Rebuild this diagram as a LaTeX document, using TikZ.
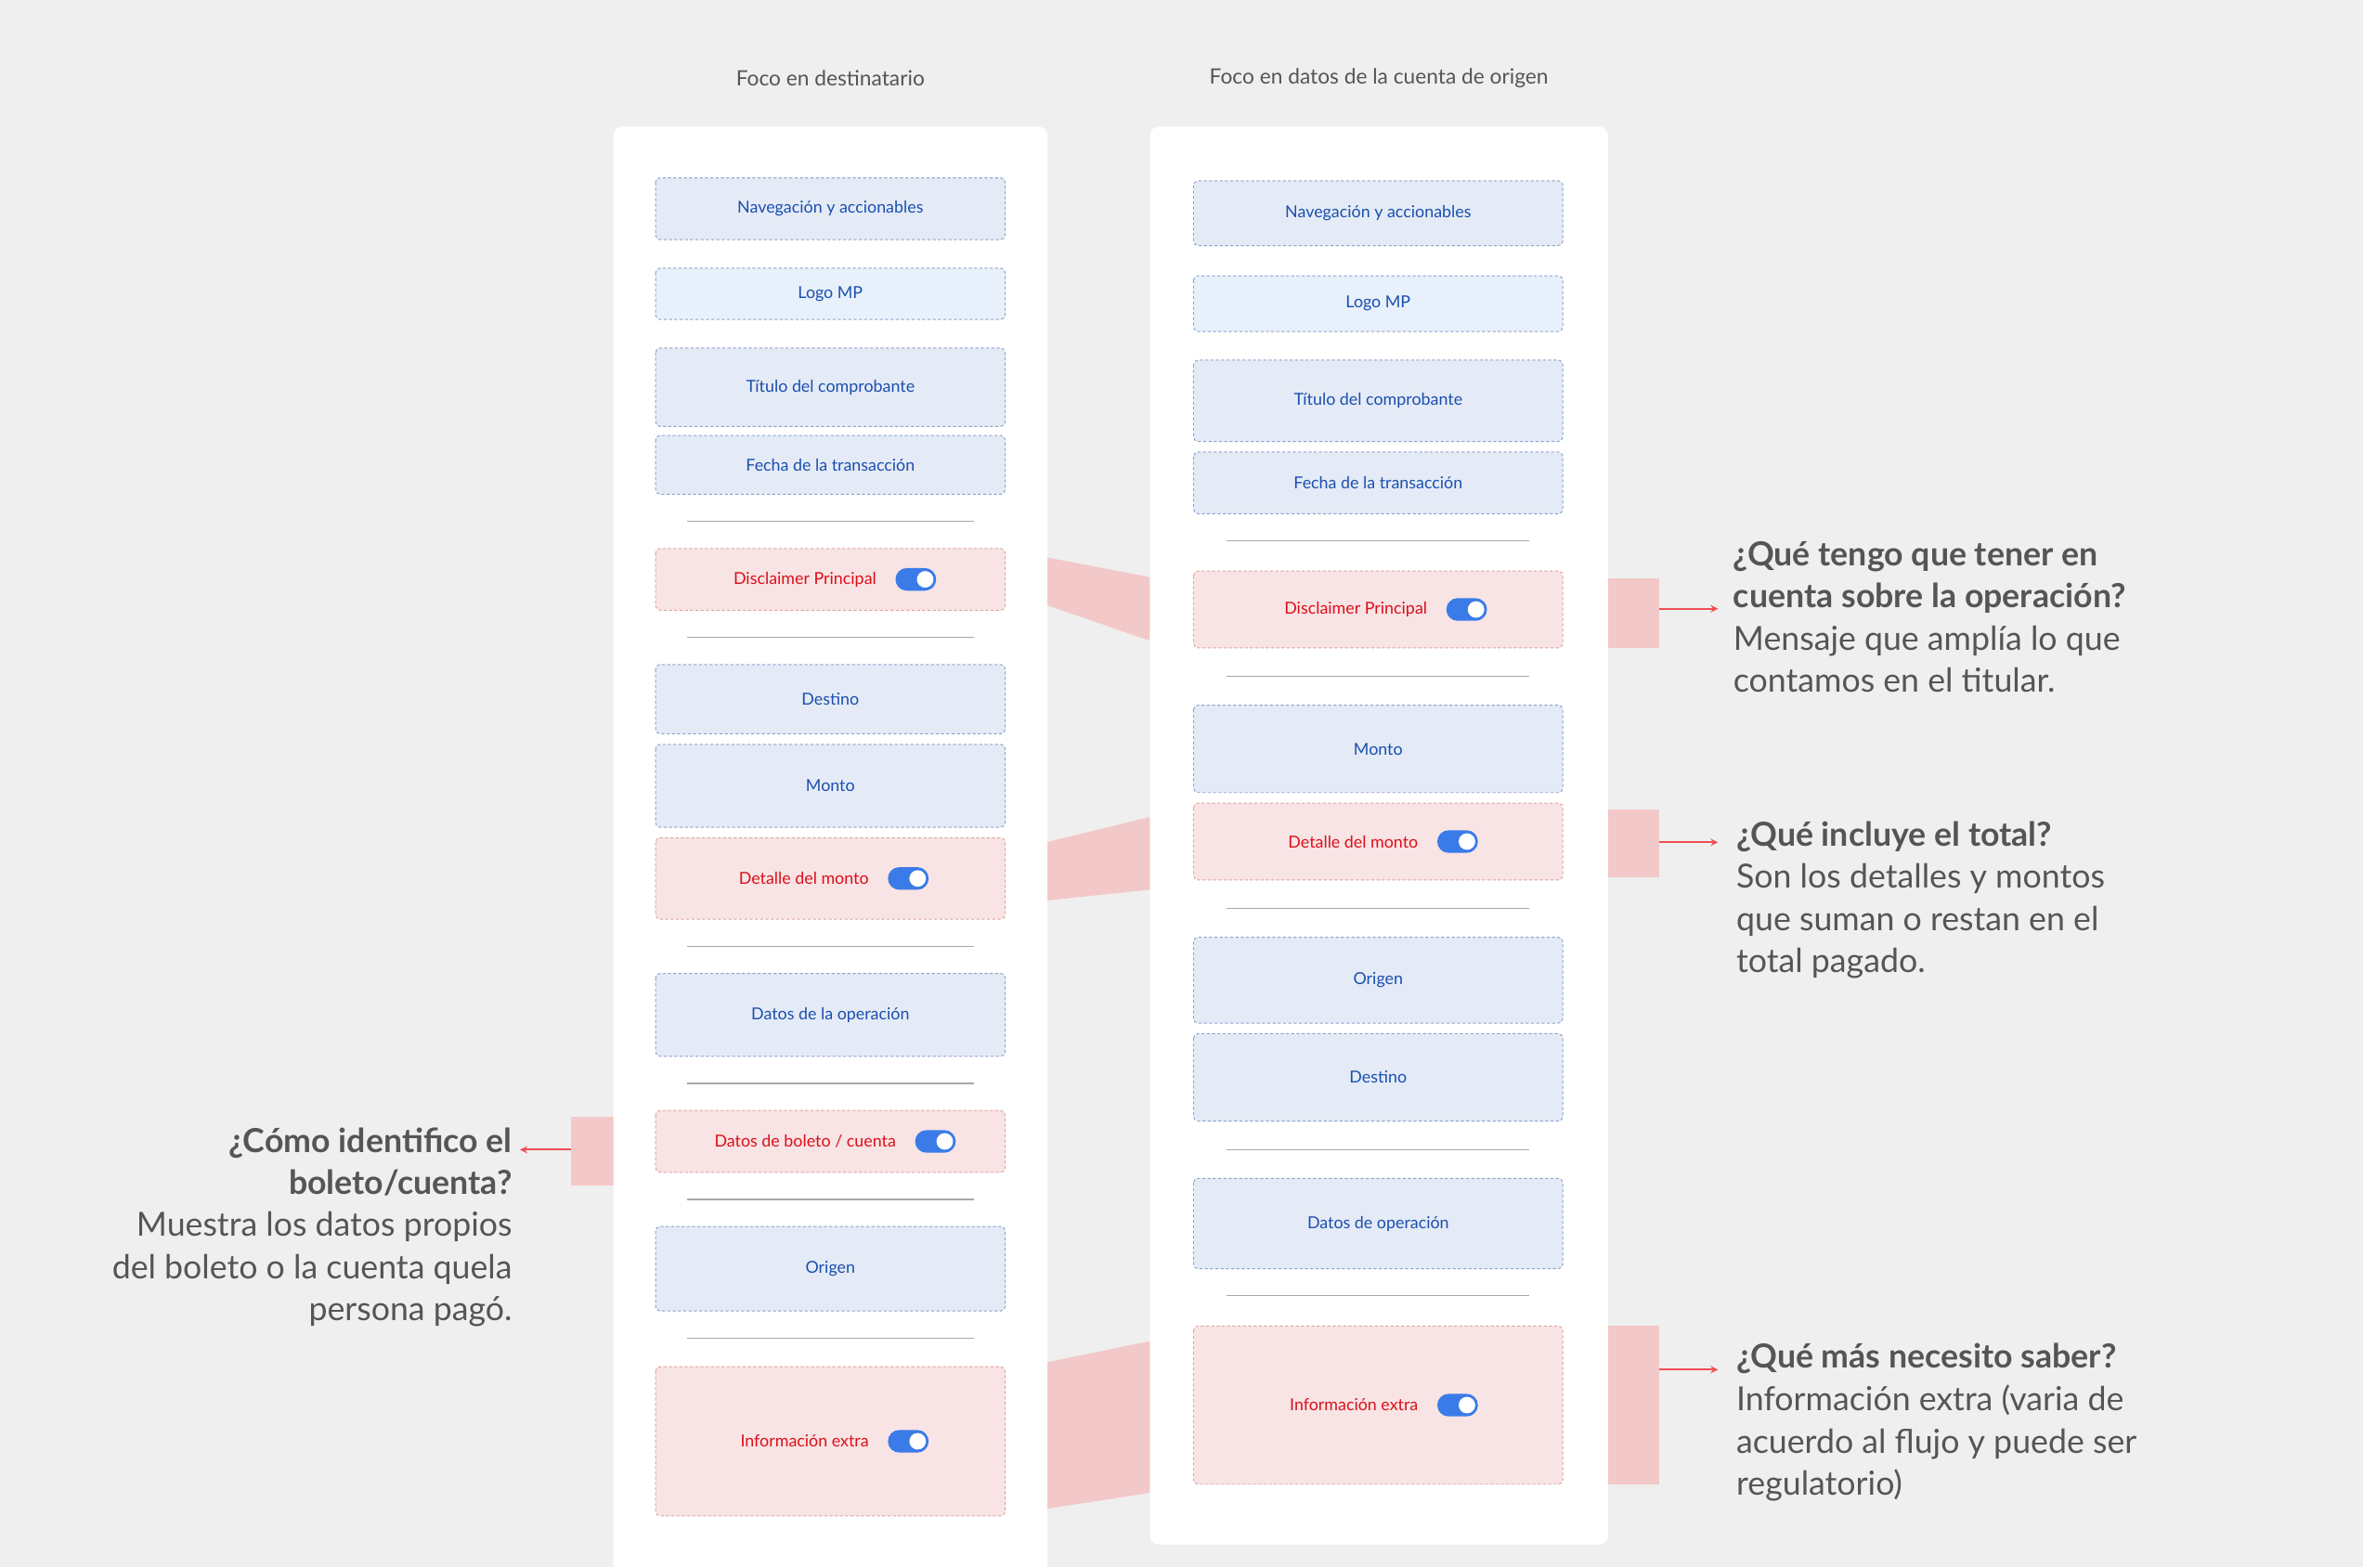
\documentclass[tikz,border=0pt]{standalone}
\usepackage{fontspec}
\setmainfont{Lato}
\definecolor{bg}{HTML}{EFEFEF}
\definecolor{bfill}{HTML}{E5EBF6}
\definecolor{bfill2}{HTML}{E8F0FB}
\definecolor{bdraw}{HTML}{8DA3CC}
\definecolor{btext}{HTML}{1A4FB0}
\definecolor{rfill}{HTML}{F8E4E4}
\definecolor{rdraw}{HTML}{E2A3A3}
\definecolor{rtext}{HTML}{DD0F1B}
\definecolor{band}{HTML}{F3C8C8}
\definecolor{txt}{HTML}{555555}
\definecolor{arr}{HTML}{EF4F55}
\definecolor{tog}{HTML}{3A7BE8}
\definecolor{sep}{HTML}{A8A8A8}
\begin{document}
\begin{tikzpicture}[x=1pt,y=-1pt,
 bbox/.style={draw=bdraw,fill=bfill,dashed,dash pattern=on 2pt off 1.5pt,line width=0.6pt,rounded corners=3pt},
 rbox/.style={draw=rdraw,fill=rfill,dashed,dash pattern=on 2pt off 1.5pt,line width=0.6pt,rounded corners=3pt},
 blbl/.style={text=btext,font=\fontsize{11}{13}\selectfont},
 rlbl/.style={text=rtext,font=\fontsize{11}{13}\selectfont},
 togg/.style={fill=tog,rounded corners=7.5pt,minimum width=27pt,minimum height=15pt,inner sep=0pt},
 sepl/.style={draw=sep,line width=0.7pt},
 card/.style={fill=white,rounded corners=6pt},
 bandst/.style={fill=band},
 ttl/.style={text=txt,font=\fontsize{14}{16}\selectfont},
 hb/.style={text=txt,font=\bfseries\fontsize{22}{28}\selectfont,align=left,anchor=north west,inner sep=0pt},
 hr/.style={text=txt,font=\fontsize{22}{28}\selectfont,align=left,anchor=north west,inner sep=0pt},
 ar/.style={draw=arr,line width=1.2pt,-stealth}]
\useasboundingbox (0,0) rectangle (1568,1040);
\fill[bg] (0,0) rectangle (1568,1040);
\node[ttl] (t1) at (551,52) {Foco en destinatario};
\node[ttl] (t2) at (915,52) {Foco en datos de la cuenta de origen};
% bands
\fill[bandst] (690,369) -- (768,384) -- (768,427) -- (690,400) -- cycle;
\fill[bandst] (690,560) -- (768,541) -- (768,590) -- (690,598) -- cycle;
\fill[bandst] (690,905) -- (768,889) -- (768,990) -- (690,1002) -- cycle;
\fill[bandst] (1062,384) rectangle (1101,430);
\fill[bandst] (1062,537) rectangle (1101,582);
\fill[bandst] (1062,880) rectangle (1101,985);
\fill[bandst] (379,741) rectangle (412,787);
% cards
\fill[card] (407,84) rectangle (695,1060);
\fill[card] (763,84) rectangle (1067,1025);
% left boxes
\newcommand\bxb[6]{\draw[bbox,#6] (#2,#3) rectangle (#4,#5); \node[blbl] (#1) at ({(#2+#4)/2},{(#3+#5)/2}) {\csname txt#1\endcsname};}
\newcommand\bxr[6]{\draw[rbox] (#2,#3) rectangle (#4,#5); \node[rlbl,anchor=east] (#1) at ({(#2+#4)/2+#6},{(#3+#5)/2}) {\csname txt#1\endcsname};
 \node[togg,anchor=west] (#1g) at ([xshift=9pt]#1.east) {}; \fill[white] ([xshift=-7.5pt]#1g.east) circle (5.5pt);}
\def\txtlA{Navegación y accionables}\def\txtlB{Logo MP}\def\txtlC{Título del comprobante}\def\txtlD{Fecha de la transacción}
\def\txtlE{Disclaimer Principal}\def\txtlF{Destino}\def\txtlG{Monto}\def\txtlH{Detalle del monto}\def\txtlI{Datos de la operación}
\def\txtlJ{Datos de boleto / cuenta}\def\txtlK{Origen}\def\txtlL{Información extra}
\bxb{lA}{435}{118}{667}{159}{}
\bxb{lB}{435}{178}{667}{212}{fill=bfill2}
\bxb{lC}{435}{231}{667}{283}{}
\bxb{lD}{435}{289}{667}{328}{}
\draw[sepl] (456,346) -- (646,346);
\bxr{lE}{435}{364}{667}{405}{34}
\draw[sepl] (456,423) -- (646,423);
\bxb{lF}{435}{441}{667}{487}{}
\bxb{lG}{435}{494}{667}{549}{}
\bxr{lH}{435}{556}{667}{610}{29}
\draw[sepl] (456,628) -- (646,628);
\bxb{lI}{435}{646}{667}{701}{}
\draw[sepl] (456,719) -- (646,719);
\bxr{lJ}{435}{737}{667}{778}{47}
\draw[sepl] (456,796) -- (646,796);
\bxb{lK}{435}{814}{667}{870}{}
\draw[sepl] (456,888) -- (646,888);
\bxr{lL}{435}{907}{667}{1006}{29}
% right boxes
\def\txtrA{Navegación y accionables}\def\txtrB{Logo MP}\def\txtrC{Título del comprobante}\def\txtrD{Fecha de la transacción}
\def\txtrE{Disclaimer Principal}\def\txtrG{Monto}\def\txtrH{Detalle del monto}\def\txtrK{Origen}\def\txtrF{Destino}
\def\txtrI{Datos de operación}\def\txtrL{Información extra}
\bxb{rA}{792}{120}{1037}{163}{}
\bxb{rB}{792}{183}{1037}{220}{fill=bfill2}
\bxb{rC}{792}{239}{1037}{293}{}
\bxb{rD}{792}{300}{1037}{341}{}
\draw[sepl] (814,359) -- (1015,359);
\bxr{rE}{792}{379}{1037}{430}{36}
\draw[sepl] (814,449) -- (1015,449);
\bxb{rG}{792}{468}{1037}{526}{}
\bxr{rH}{792}{533}{1037}{584}{30}
\draw[sepl] (814,603) -- (1015,603);
\bxb{rK}{792}{622}{1037}{679}{}
\bxb{rF}{792}{686}{1037}{744}{}
\draw[sepl] (814,763) -- (1015,763);
\bxb{rI}{792}{782}{1037}{842}{}
\draw[sepl] (814,860) -- (1015,860);
\bxr{rL}{792}{880}{1037}{985}{30}
% annotations
\coordinate (a1s) at (1101,404); \coordinate (a1e) at (1140,404);
\coordinate (a2s) at (1101,559); \coordinate (a2e) at (1140,559);
\coordinate (a3s) at (1101,909); \coordinate (a3e) at (1140,909);
\coordinate (a4s) at (379,763); \coordinate (a4e) at (345,763);
\draw[ar] (a1s) -- (a1e); \draw[ar] (a2s) -- (a2e); \draw[ar] (a3s) -- (a3e); \draw[ar] (a4s) -- (a4e);
\node[hb] (q1) at (1150,359) {¿Qué tengo que tener en\\cuenta sobre la operación?};
\node[hr] (d1) at (1150,415) {Mensaje que amplía lo que\\contamos en el titular.};
\node[hb] (q2) at (1152,545) {¿Qué incluye el total?};
\node[hr] (d2) at (1152,573) {Son los detalles y montos\\que suman o restan en el\\total pagado.};
\node[hb] (q3) at (1152,891) {¿Qué más necesito saber?};
\node[hr] (d3) at (1152,919) {Información extra (varia de\\acuerdo al flujo y puede ser\\regulatorio)};
\node[hb,anchor=north east,align=right] (q4) at (340,748) {¿Cómo identifico el\\boleto/cuenta?};
\node[hr,anchor=north east,align=right] (d4) at (340,804) {Muestra los datos propios\\del boleto o la cuenta quela\\persona pagó.};
\end{tikzpicture}
\end{document}
